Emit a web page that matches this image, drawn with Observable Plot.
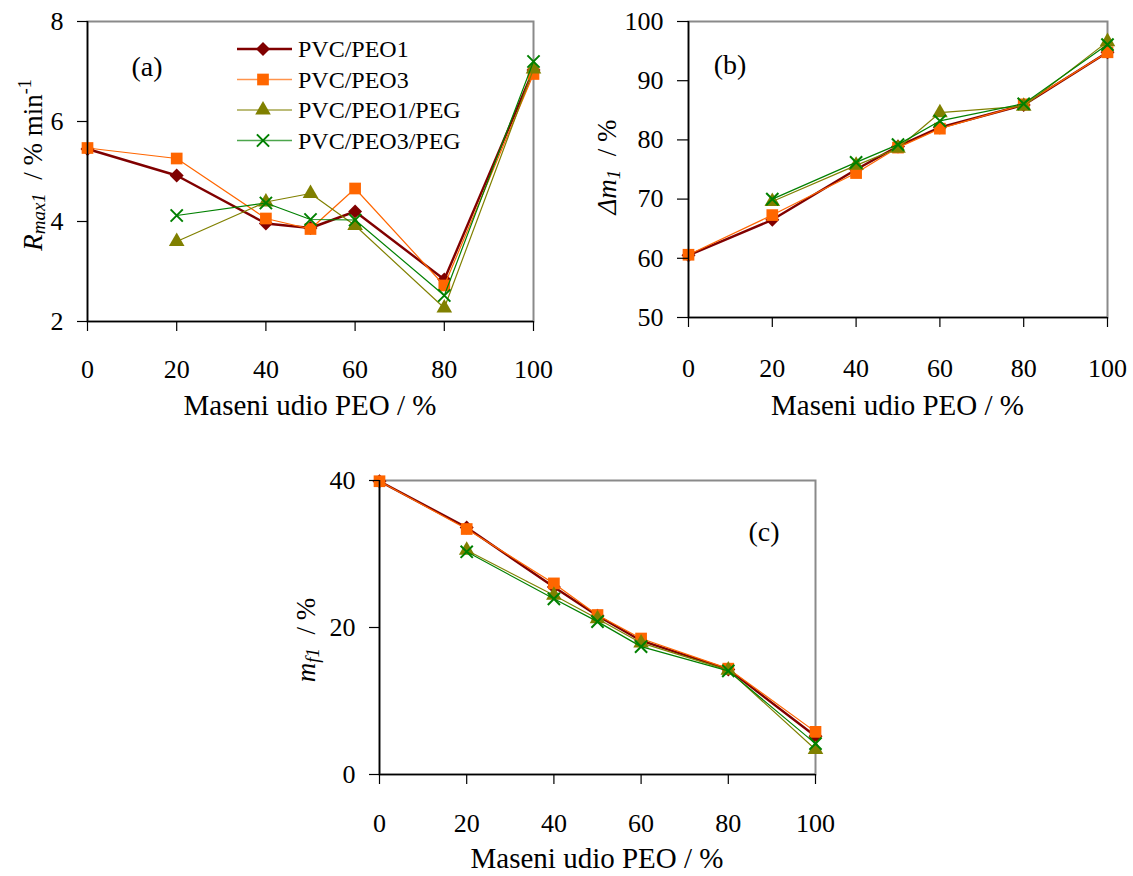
<!DOCTYPE html>
<html><head><meta charset="utf-8">
<script src="https://cdn.jsdelivr.net/npm/d3@7"></script>
<script src="https://cdn.jsdelivr.net/npm/@observablehq/plot@0.6"></script>
<style>
body{margin:0;background:#fff;}
#wrap{position:relative;width:1133px;height:876px;font-family:'Liberation Serif',serif;}
#wrap svg{position:absolute;overflow:visible;}
</style></head><body><div id="wrap"></div>
<script>
// ---- data ----
const peoShare = [0, 20, 40, 50, 60, 80, 100];
const xTickValues = [0, 20, 40, 60, 80, 100];
const seriesNames = ["PVC/PEO1", "PVC/PEO3", "PVC/PEO1/PEG", "PVC/PEO3/PEG"];
const seriesColors = ["#800000", "#FF6600", "#808000", "#008000"];
const seriesSymbols = ["diamond2", "square", "triangle", "times"];

// panel (a): Rmax1 / % min-1
const rmax_PEO1    = [5.45, 4.92, 3.96, 3.87, 4.20, 2.84, 7.03];
const rmax_PEO3    = [5.47, 5.26, 4.06, 3.85, 4.66, 2.72, 6.95];
const rmax_PEO1PEG = [null, 3.60, 4.39, 4.56, 3.92, 2.27, 7.05];
const rmax_PEO3PEG = [null, 4.12, 4.37, 4.04, 4.03, 2.52, 7.20];
const rmaxTicks = [2, 4, 6, 8];

// panel (b): Δm1 / %
const dm_PEO1    = [60.5, 66.5, 75.0, 78.9, 82.1, 85.9, 94.8];
const dm_PEO3    = [60.6, 67.3, 74.4, 78.7, 81.9, 86.0, 94.8];
const dm_PEO1PEG = [null, 69.6, 75.7, 78.6, 84.6, 85.7, 96.6];
const dm_PEO3PEG = [null, 70.0, 76.2, 79.2, 83.2, 86.1, 96.1];
const dmTicks = [50, 60, 70, 80, 90, 100];

// panel (c): mf1 / %
const mf_PEO1    = [39.9, 33.6, 25.5, 21.6, 18.2, 14.3, 5.2];
const mf_PEO3    = [39.9, 33.4, 26.0, 21.7, 18.5, 14.4, 5.8];
const mf_PEO1PEG = [null, 30.5, 24.4, 21.2, 17.9, 14.2, 3.4];
const mf_PEO3PEG = [null, 30.3, 23.9, 20.8, 17.4, 14.1, 4.2];
const mfTicks = [0, 20, 40];

const xTitle = "Maseni udio PEO / %";

// ---- helpers ----
const FONT = "Liberation Serif, serif";
const wrap = document.getElementById("wrap");
const markerR = [6.3, 6.6, 5.8, 5.6];

function rowsOf(values) {
  return peoShare.map((x, i) => ({x, y: values[i]})).filter(d => d.y != null);
}

function panel(cfg) {
  const marks = [
    Plot.frame({stroke: "#8a8a8a", strokeWidth: 2})
  ];
  cfg.series.forEach((vals, i) => {
    const rows = rowsOf(vals);
    marks.push(Plot.line(rows, {x: "x", y: "y", stroke: seriesColors[i], strokeWidth: i === 0 ? 2.4 : 1.2}));
    const isStroke = seriesSymbols[i] === "times";
    marks.push(Plot.dot(rows, {
      x: "x", y: "y", symbol: seriesSymbols[i], r: markerR[i],
      fill: isStroke ? "none" : seriesColors[i],
      stroke: isStroke ? seriesColors[i] : "none",
      strokeWidth: isStroke ? 2 : 0
    }));
  });
  marks.push(Plot.ruleX([0], {stroke: "black", strokeWidth: 1.6}));
  marks.push(Plot.ruleY([cfg.yDomain[0]], {stroke: "black", strokeWidth: 1.6}));
  marks.push(Plot.axisX(xTickValues, {tickSize: 10, tickPadding: cfg.xPad, fontSize: 26, fontFamily: FONT, label: null, stroke: "black", strokeWidth: 1.2, tickFormat: d3.format("d")}));
  marks.push(Plot.axisY(cfg.yTicks, {tickSize: cfg.yTickSize, tickPadding: 14, fontSize: 26, fontFamily: FONT, label: null, stroke: "black", strokeWidth: 1.2, tickFormat: d3.format("d")}));

  const svg = Plot.plot({
    width: cfg.width, height: cfg.height,
    marginLeft: cfg.ml, marginRight: cfg.mr, marginTop: cfg.mt, marginBottom: cfg.mb,
    x: {domain: [0, 100]},
    y: {domain: cfg.yDomain},
    style: {fontFamily: FONT, fontSize: "26px", color: "black", background: "transparent", overflow: "visible"},
    marks
  });
  svg.style.left = cfg.left + "px";
  svg.style.top = cfg.top + "px";
  wrap.appendChild(svg);

  const s = d3.select(svg);
  const xs = svg.scale("x");
  // x title
  s.append("text")
    .attr("x", (xs.apply(0) + xs.apply(100)) / 2)
    .attr("y", cfg.titleY)
    .attr("text-anchor", "middle")
    .attr("font-family", FONT).attr("font-size", 29).attr("fill", "black")
    .text(xTitle);
  // panel letter
  s.append("text")
    .attr("x", cfg.letterX).attr("y", cfg.letterY)
    .attr("text-anchor", "middle")
    .attr("font-family", FONT).attr("font-size", 28).attr("fill", "black")
    .text(cfg.letter);
  // y title
  const yt = s.append("text")
    .attr("transform", `translate(${cfg.ytX},${cfg.ytY}) rotate(-90)`)
    .attr("text-anchor", "middle")
    .attr("font-family", FONT).attr("font-size", 27).attr("fill", "black");
  cfg.yTitle(yt);
  return svg;
}

// ---- panel (a) ----
panel({
  series: [rmax_PEO1, rmax_PEO3, rmax_PEO1PEG, rmax_PEO3PEG],
  yDomain: [2, 8], yTicks: rmaxTicks, yTickSize: 10,
  left: 0, top: 0, width: 560, height: 430,
  ml: 87, mr: 27, mt: 21, mb: 109, xPad: 28,
  titleY: 415, letter: "(a)", letterX: 147, letterY: 76,
  ytX: 42, ytY: 165,
  yTitle: t => {
    t.append("tspan").attr("font-style", "italic").text("R");
    t.append("tspan").attr("font-style", "italic").attr("font-size", 19).attr("dy", 3).text("max1");
    t.append("tspan").attr("dy", -3).text("\u00a0 / %\u00a0min");
    t.append("tspan").attr("font-size", 18).attr("dy", -11).text("-1");
  }
});

// ---- panel (b) ----
panel({
  series: [dm_PEO1, dm_PEO3, dm_PEO1PEG, dm_PEO3PEG],
  yDomain: [50, 100], yTicks: dmTicks, yTickSize: 11,
  left: 600, top: 0, width: 533, height: 430,
  ml: 88, mr: 26, mt: 21, mb: 113, xPad: 31,
  titleY: 415, letter: "(b)", letterX: 130, letterY: 74,
  ytX: 16, ytY: 167,
  yTitle: t => {
    t.append("tspan").attr("font-style", "italic").text("\u0394m");
    t.append("tspan").attr("font-style", "italic").attr("font-size", 19).attr("dy", 4).text("1");
    t.append("tspan").attr("dy", -4).text("\u00a0 / %");
  }
});

// ---- panel (c) ----
panel({
  series: [mf_PEO1, mf_PEO3, mf_PEO1PEG, mf_PEO3PEG],
  yDomain: [0, 40], yTicks: mfTicks, yTickSize: 10,
  left: 290, top: 440, width: 560, height: 436,
  ml: 89, mr: 35, mt: 40, mb: 102, xPad: 29,
  titleY: 428, letter: "(c)", letterX: 474, letterY: 101,
  ytX: 25, ytY: 200,
  yTitle: t => {
    t.append("tspan").attr("font-style", "italic").text("m");
    t.append("tspan").attr("font-style", "italic").attr("font-size", 19).attr("dy", 4).text("f1");
    t.append("tspan").attr("dy", -4).text("\u00a0 / %");
  }
});

// ---- legend (panel a) ----
const leg = d3.select(wrap).append("svg")
  .attr("width", 260).attr("height", 140)
  .style("left", "225px").style("top", "30px");
const symMap = {diamond2: d3.symbolDiamond2, square: d3.symbolSquare, triangle: d3.symbolTriangle, times: d3.symbolTimes};
seriesNames.forEach((name, i) => {
  const g = leg.append("g").attr("transform", `translate(0,${19 + i * 30.5})`);
  g.append("line").attr("x1", 12).attr("x2", 67).attr("y1", 0).attr("y2", 0)
    .attr("stroke", seriesColors[i]).attr("stroke-width", i === 0 ? 2.4 : 1.6).attr("stroke-opacity", i === 0 ? 1 : 0.7);
  const isStroke = seriesSymbols[i] === "times";
  g.append("path").attr("transform", "translate(38,0)")
    .attr("d", d3.symbol(symMap[seriesSymbols[i]], markerR[i] * markerR[i] * Math.PI)())
    .attr("fill", isStroke ? "none" : seriesColors[i])
    .attr("stroke", isStroke ? seriesColors[i] : "none")
    .attr("stroke-width", isStroke ? 2 : 0);
  g.append("text").attr("x", 73).attr("y", 8)
    .attr("font-family", FONT).attr("font-size", 24).attr("fill", "black")
    .text(name);
});
</script></body></html>
